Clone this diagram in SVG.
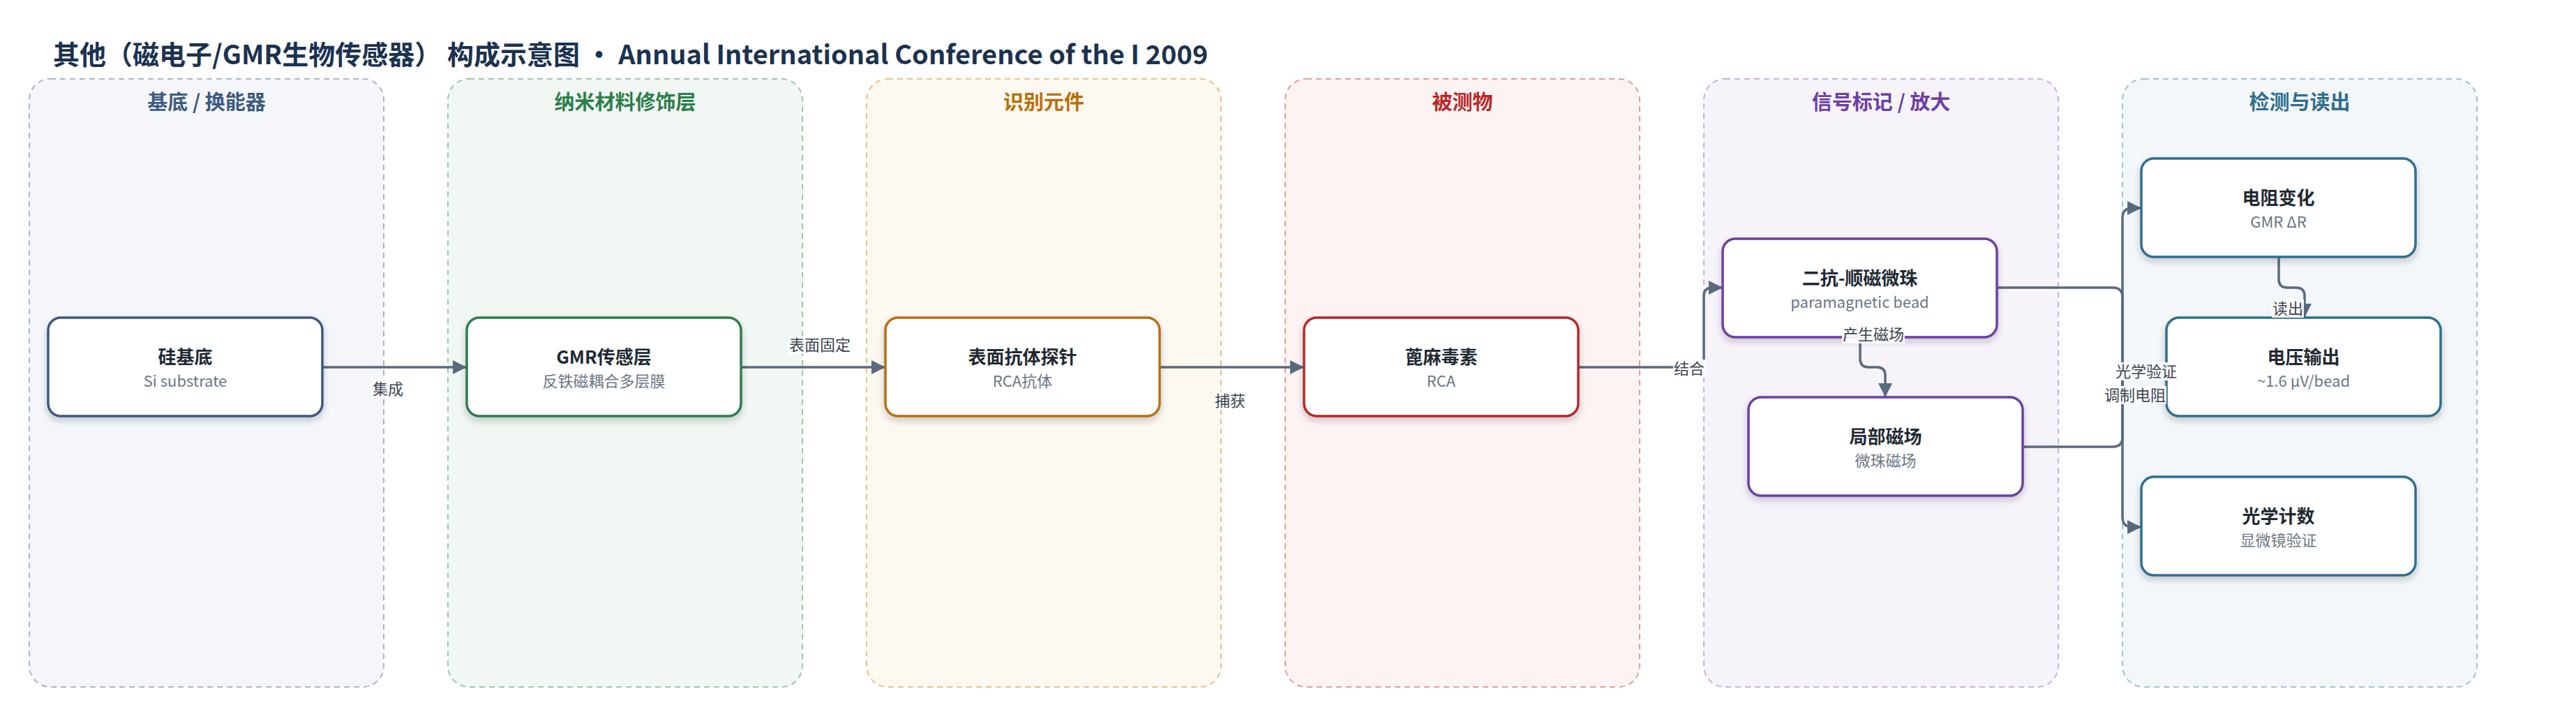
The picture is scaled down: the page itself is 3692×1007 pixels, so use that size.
<svg xmlns="http://www.w3.org/2000/svg" width="3692" height="1007" viewBox="0 0 3692 1007">
<defs>
<style>
text{font-family:"Noto Sans CJK SC","Noto Sans",sans-serif;}
.title{font-size:38px;font-weight:700;fill:#1b3250;}
.lane{stroke-width:2;stroke-dasharray:8 6;}
.lt{font-size:29px;font-weight:700;text-anchor:middle;}
.node{fill:#ffffff;stroke-width:3.5;filter:url(#sh);}
.nt{font-size:26px;font-weight:700;fill:#1f2933;text-anchor:middle;}
.ns{font-size:22px;fill:#6b7684;text-anchor:middle;}
.edge{fill:none;stroke:#5a6a7e;stroke-width:3.5;marker-end:url(#ah);}
.lb{font-size:22px;fill:#3b4450;text-anchor:middle;}
.lbg{fill:#ffffff;fill-opacity:0.92;}
</style>
<filter id="sh" x="-10%" y="-10%" width="120%" height="130%">
<feDropShadow dx="0" dy="5" stdDeviation="5" flood-color="#1f2937" flood-opacity="0.22"/>
</filter>
<marker id="ah" markerUnits="userSpaceOnUse" markerWidth="22" markerHeight="22" refX="20" refY="10" orient="auto">
<path d="M0,0 L20,10 L0,20 z" fill="#5a6a7e"/>
</marker>
</defs>
<rect x="0" y="0" width="3692" height="1007" fill="#ffffff"/>
<text class="title" x="76" y="92">其他（磁电子/GMR生物传感器） 构成示意图 · Annual International Conference of the I 2009</text>

<g id="lanes">
<g id="lane-substrate"><rect class="lane" x="42" y="113" width="508" height="871" rx="30" fill="#f4f6fa" stroke="#a9b6c9"/><text class="lt" x="296" y="157" fill="#3d5a80">基底 / 换能器</text></g>
<g id="lane-nano"><rect class="lane" x="642" y="113" width="508" height="871" rx="30" fill="#f1f8f3" stroke="#9cc7a9"/><text class="lt" x="896" y="157" fill="#2e7d4a">纳米材料修饰层</text></g>
<g id="lane-recog"><rect class="lane" x="1242" y="113" width="508" height="871" rx="30" fill="#fdf8f0" stroke="#e8c08a"/><text class="lt" x="1496" y="157" fill="#b8700a">识别元件</text></g>
<g id="lane-analyte"><rect class="lane" x="1842" y="113" width="508" height="871" rx="30" fill="#fdf3f3" stroke="#e39c9c"/><text class="lt" x="2096" y="157" fill="#b52a2a">被测物</text></g>
<g id="lane-signal"><rect class="lane" x="2442" y="113" width="508" height="871" rx="30" fill="#f7f3fb" stroke="#c8b0e2"/><text class="lt" x="2696" y="157" fill="#6c3fa3">信号标记 / 放大</text></g>
<g id="lane-detect"><rect class="lane" x="3042" y="113" width="508" height="871" rx="30" fill="#f3f7f9" stroke="#9dc3cf"/><text class="lt" x="3296" y="157" fill="#2f6f8f">检测与读出</text></g>
</g>

<g id="connectors">
<path class="edge" d="M462,526 H669"/>
<path class="edge" d="M1062,526 H1269"/>
<path class="edge" d="M1662,526 H1869"/>
<path class="edge" d="M2262,526 H2430 Q2442,526 2442,514 V424 Q2442,412 2454,412 H2469"/>
<path class="edge" d="M2666,483 V514 Q2666,526 2678,526 H2690 Q2702,526 2702,538 V569"/>
<path class="edge" d="M2862,412 H3028 Q3042,412 3042,426 V741 Q3042,755 3056,755 H3069"/>
<path class="edge" d="M2899,640 H3028 Q3042,640 3042,626 V312 Q3042,298 3056,298 H3069"/>
<path class="edge" d="M3266,368 V400 Q3266,412 3278,412 H3291 Q3303,412 3303,424 V455"/>
</g>

<g id="node-si"><rect class="node" x="69" y="455" width="393" height="141" rx="18" stroke="#3d5a80"/><text class="nt" x="265.5" y="521">硅基底</text><text class="ns" x="265.5" y="554">Si substrate</text></g>
<g id="node-gmr"><rect class="node" x="669" y="455" width="393" height="141" rx="18" stroke="#2e7d4a"/><text class="nt" x="865.5" y="521">GMR传感层</text><text class="ns" x="865.5" y="554">反铁磁耦合多层膜</text></g>
<g id="node-probe"><rect class="node" x="1269" y="455" width="393" height="141" rx="18" stroke="#b8700a"/><text class="nt" x="1465.5" y="521">表面抗体探针</text><text class="ns" x="1465.5" y="554">RCA抗体</text></g>
<g id="node-rca"><rect class="node" x="1869" y="455" width="393" height="141" rx="18" stroke="#b52a2a"/><text class="nt" x="2065.5" y="521">蓖麻毒素</text><text class="ns" x="2065.5" y="554">RCA</text></g>
<g id="node-bead"><rect class="node" x="2469" y="342" width="393" height="141" rx="18" stroke="#6c3fa3"/><text class="nt" x="2665.5" y="408">二抗-顺磁微珠</text><text class="ns" x="2665.5" y="441">paramagnetic bead</text></g>
<g id="node-field"><rect class="node" x="2506" y="569" width="393" height="141" rx="18" stroke="#6c3fa3"/><text class="nt" x="2702.5" y="635">局部磁场</text><text class="ns" x="2702.5" y="668">微珠磁场</text></g>
<g id="node-dr"><rect class="node" x="3069" y="227" width="393" height="141" rx="18" stroke="#2f6f8f"/><text class="nt" x="3265.5" y="293">电阻变化</text><text class="ns" x="3265.5" y="326">GMR ΔR</text></g>
<g id="node-v"><rect class="node" x="3105" y="455" width="393" height="141" rx="18" stroke="#2f6f8f"/><text class="nt" x="3301.5" y="521">电压输出</text><text class="ns" x="3301.5" y="554">~1.6 μV/bead</text></g>
<g id="node-opt"><rect class="node" x="3069" y="683" width="393" height="141" rx="18" stroke="#2f6f8f"/><text class="nt" x="3265.5" y="749">光学计数</text><text class="ns" x="3265.5" y="782">显微镜验证</text></g>

<g id="edge-labels">
<rect class="lbg" x="533" y="544" width="46" height="26"/><text class="lb" x="556" y="565">集成</text>
<rect class="lbg" x="1130" y="481" width="90" height="26"/><text class="lb" x="1175" y="502">表面固定</text>
<rect class="lbg" x="1740" y="561" width="46" height="26"/><text class="lb" x="1763" y="582">捕获</text>
<rect class="lbg" x="2398" y="515" width="46" height="26"/><text class="lb" x="2421" y="536">结合</text>
<rect class="lbg" x="2640" y="466" width="90" height="26"/><text class="lb" x="2685" y="487">产生磁场</text>
<rect class="lbg" x="3031" y="519" width="90" height="26"/><text class="lb" x="3076" y="540">光学验证</text>
<rect class="lbg" x="3015" y="553" width="90" height="26"/><text class="lb" x="3060" y="574">调制电阻</text>
<rect class="lbg" x="3256" y="429" width="46" height="26"/><text class="lb" x="3279" y="450">读出</text>
</g>
</svg>
